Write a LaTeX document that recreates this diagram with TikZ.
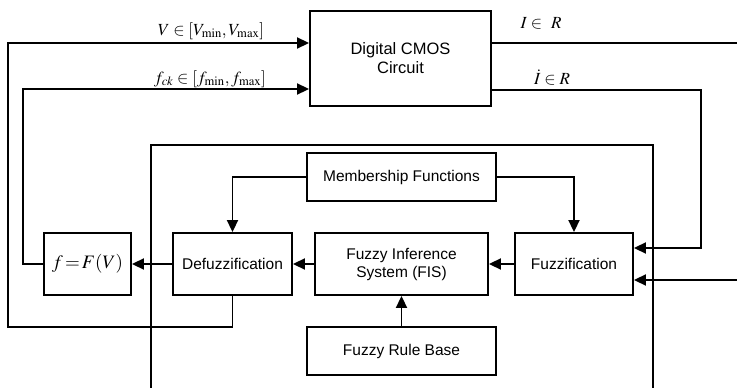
\documentclass[tikz,border=0pt]{standalone}
\usepackage{mathptmx}
\usepackage{fontspec}
\setsansfont{Liberation Sans}
\usetikzlibrary{arrows.meta}

\tikzset{
  block/.style={draw, line width=1.9pt, align=center, font=\sffamily\fontsize{15.5}{18}\selectfont, inner sep=2pt},
  arr/.style={line width=1.9pt, -{Triangle[length=12pt,width=11pt]}},
  wire/.style={line width=1.9pt},
  lbl/.style={anchor=base, inner sep=1pt, font=\fontsize{17}{19}\selectfont}
}

\begin{document}
\begin{tikzpicture}[x=1pt, y=-1pt]
\useasboundingbox (0,0) rectangle (737,388);

% Outer frame of the controller
\draw[line width=1.3pt] (151,388) -- (151,145) -- (653,145) -- (653,388);

% Draw the blocks
\node[block, minimum width=181pt, minimum height=95pt, font=\sffamily\fontsize{16.5}{19}\selectfont] (cmos) at (400.5,58.5) {Digital CMOS\\Circuit};
\node[block, minimum width=189pt, minimum height=48pt] (mf) at (401.5,177) {Membership Functions};
\node[block, minimum width=119pt, minimum height=62pt] (defuzz) at (232.5,264) {Defuzzification};
\node[block, minimum width=87pt, minimum height=62pt, font=\fontsize{19}{21}\selectfont] (fbox) at (87.5,264) {$f\!=\!F(V)$};
\node[block, minimum width=173pt, minimum height=62pt] (fis) at (401.5,264) {Fuzzy Inference\\System (FIS)};
\node[block, minimum width=118pt, minimum height=62pt] (fuzz) at (574,264) {Fuzzification};
\node[block, minimum width=189pt, minimum height=48pt] (rule) at (401.5,351) {Fuzzy Rule Base};

% Free ends at the right margin
\coordinate (iout) at (737,43);
\coordinate (ext) at (737,280);

% Connectors inside the controller
\draw[arr] (mf.west) -| (defuzz.north);
\draw[arr] (mf.east) -| (fuzz.north);
\draw[arr] (fuzz) -- (fis);
\draw[arr] (fis) -- (defuzz);
\draw[arr] (defuzz) -- (fbox);
\draw[arr] (rule) -- (fis);

% Feedback to the circuit
\draw[arr] (defuzz.south) |- (8,327) |- ([yshift=15.5pt]cmos.west);
\draw[arr] (fbox.west) -- ++(-20,0) |- ([yshift=-30.5pt]cmos.west);
\draw[wire] ([yshift=15.5pt]cmos.east) -- (iout);
\draw[arr] ([yshift=-31.5pt]cmos.east) -| ++(209,0) |- ([yshift=16pt]fuzz.east);
\draw[arr] (ext) -- ([yshift=-16pt]fuzz.east);

% Signal labels
\node[lbl] (vlbl) at (211,35) {$V\in[V_{\min},V_{\max}]$};
\node[lbl] (flbl) at (210,83) {$f_{ck}\in[f_{\min},f_{\max}]$};
\node[lbl] (ilbl) at (541,28) {$I\in\ R$};
\node[lbl] (idlbl) at (552,84) {$\dot{I}\in R$};
\end{tikzpicture}
\end{document}
